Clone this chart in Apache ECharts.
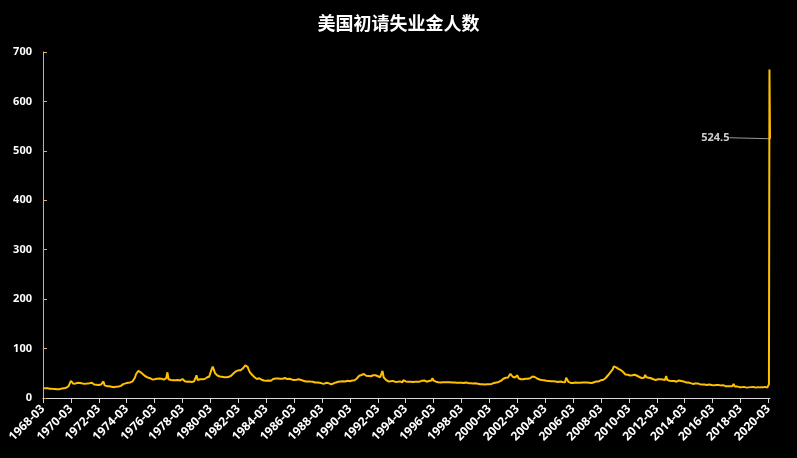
<!DOCTYPE html>
<html>
<head>
<meta charset="utf-8">
<script src="https://cdn.jsdelivr.net/npm/echarts@6/dist/echarts.min.js"></script>
<style>
html,body{margin:0;padding:0;background:#000;}
#chart{width:797px;height:458px;}
</style>
</head>
<body>
<div id="chart"></div>
<script>
// Weekly US initial jobless claims (万人), read as monthly levels
const titleText = '美国初请失业金人数';
const claims1960sStart = '1968-03';
const claims1960s = [20.5,19.8,19.5,20.2,19.6,19.0,18.9,19.4,18.6,18.8,
  18.4,18.9,17.9,18.5,17.8,18.3,19.0,18.6,19.5,20.1,20.8,21.5];
const claims1970sStart = '1970-01';
const claims1970s = [
  24.0,27.5,34.8,31.5,29.0,32.8,29.5,30.4,30.8,31.4,30.2,29.0,
  29.5,30.2,29.0,28.8,29.4,28.5,30.0,32.5,31.0,28.0,27.2,27.8,
  27.0,27.8,26.5,26.9,27.5,26.8,33.5,25.5,24.8,24.0,24.5,23.6,
  23.0,22.8,22.0,21.6,22.5,23.0,22.4,23.2,24.0,24.5,25.8,28.0,
  30.0,29.5,29.8,31.0,30.5,31.5,32.5,33.5,36.0,41.0,48.0,52.0,
  55.0,54.0,52.0,49.5,48.0,46.5,44.0,42.5,41.5,41.0,40.0,38.5,
  37.5,37.0,37.8,38.5,39.0,38.0,39.5,38.2,38.8,38.0,37.2,36.5,
  40.0,52.0,38.0,37.0,36.5,37.2,36.0,36.8,36.0,35.5,36.5,36.0,
  35.5,36.0,38.5,34.5,34.0,33.5,33.0,32.8,33.2,33.5,32.5,33.0,
  33.8,34.5,46.0,36.5,37.5,38.0,38.5,38.0,37.5,38.5,40.0,41.5];
const claims1980sStart = '1980-01';
const claims1980s = [
  42.0,43.5,47.0,58.0,63.5,57.0,50.0,47.0,45.5,44.5,43.5,42.5,
  43.0,42.5,42.0,43.0,42.0,43.5,42.8,44.0,45.5,47.5,50.0,52.5,
  54.0,53.0,56.0,58.5,56.0,57.5,60.0,61.5,66.0,69.0,63.0,57.0,
  52.0,48.0,46.5,45.0,42.0,40.0,38.5,41.5,40.0,38.0,37.0,36.5,
  35.5,34.0,35.0,34.5,35.5,34.0,35.0,36.5,38.5,41.5,39.5,38.5,
  39.5,40.0,39.0,39.5,38.8,39.8,40.5,39.0,38.5,39.5,39.0,38.2,
  37.5,37.8,36.5,36.0,37.0,36.8,38.0,37.2,36.5,35.0,34.8,34.0,
  33.5,33.0,33.5,32.8,33.2,34.0,33.0,32.0,31.5,30.5,31.5,32.0,
  31.0,30.0,29.5,30.5,29.0,30.0,31.0,30.5,29.5,28.5,27.5,28.0,
  29.5,30.5,31.5,32.0,33.0,32.0,33.5,33.0,33.8,34.5,33.5,34.5];
const claims1990sStart = '1990-01';
const claims1990s = [
  35.0,34.5,34.0,35.0,35.5,36.5,36.0,38.0,39.5,42.0,45.0,46.0,
  46.5,50.0,48.5,47.5,45.0,43.5,44.5,43.0,44.0,45.0,46.0,45.5,
  46.0,45.5,44.0,43.0,42.0,41.5,55.0,42.0,40.0,36.5,34.5,33.5,
  33.0,34.0,33.5,34.5,33.0,32.5,33.5,32.8,32.0,33.5,32.0,31.5,
  36.0,35.0,33.5,32.5,33.0,33.5,33.0,32.5,32.5,32.0,32.8,32.5,
  33.0,33.5,33.0,34.5,35.0,34.0,35.5,33.5,33.0,33.5,34.5,35.0,
  35.5,40.0,35.0,33.5,33.0,32.5,32.0,32.5,31.5,31.5,32.0,33.0,
  32.0,31.5,32.0,31.5,31.8,32.5,31.5,31.0,31.5,30.5,31.0,31.5,
  31.0,30.5,31.0,31.5,30.5,30.0,31.5,30.5,30.0,29.5,29.8,29.0,
  29.5,29.0,29.8,29.5,29.0,28.5,28.0,28.5,28.0,27.5,27.2,27.5];
const claims2000sStart = '2000-01';
const claims2000s = [
  28.0,27.5,27.8,27.5,28.5,29.5,30.5,31.0,31.5,31.5,32.5,33.5,
  35.0,37.5,39.0,40.5,41.0,40.5,41.5,40.5,49.0,47.5,43.0,41.0,
  41.5,40.5,46.0,40.0,38.5,38.0,38.5,38.0,38.5,39.0,38.5,39.0,
  38.0,40.0,42.0,43.5,43.0,42.5,41.0,39.5,39.0,37.5,36.5,36.5,
  35.5,36.0,35.5,35.0,35.0,34.5,35.0,34.0,34.5,34.0,34.5,33.5,
  34.0,32.5,33.0,33.5,33.0,32.5,31.5,32.0,41.0,37.0,32.5,32.0,
  30.5,30.0,30.5,31.0,31.5,30.8,31.0,31.5,31.0,30.5,31.5,31.0,
  31.5,32.5,31.5,32.0,31.0,31.5,30.5,32.0,32.0,32.5,33.5,34.0,
  33.5,35.0,36.0,37.5,37.0,38.5,40.5,44.0,46.0,47.5,52.0,56.0,
  58.0,64.0,66.0,62.0,60.5,59.0,56.0,56.5,54.5,52.5,50.0,47.5];
const claims2010sStart = '2010-01';
const claims2010s = [
  47.0,47.0,45.5,45.5,45.0,46.0,45.5,47.0,45.5,45.0,43.5,42.5,
  41.5,40.5,39.5,41.0,46.5,42.0,40.5,41.0,41.0,40.0,39.5,38.0,
  37.5,36.5,36.5,38.0,37.5,38.0,37.0,37.5,37.0,36.5,44.5,36.5,
  36.0,35.0,35.5,34.5,35.0,34.5,34.0,33.0,31.5,35.5,33.0,34.5,
  33.5,33.5,32.5,31.5,31.0,31.5,30.0,30.0,29.5,28.5,29.5,29.5,
  29.5,29.5,28.5,28.0,27.5,27.5,27.0,27.5,27.0,26.5,27.0,27.5,
  28.0,26.5,26.5,25.5,26.5,26.5,26.0,26.5,25.5,25.5,25.5,26.0,
  24.5,24.0,24.5,24.0,23.5,24.0,25.0,24.0,28.5,23.5,24.0,23.5,
  22.5,22.0,22.5,22.0,22.0,22.5,21.5,21.0,20.5,21.5,22.5,22.0,
  21.5,22.5,21.5,21.0,21.5,22.0,21.0,21.5,21.5,21.5,22.0,22.5,
  21.5,21.0];
const weekly2020Dates = ['2020-03-07','2020-03-14','2020-03-21','2020-03-28','2020-04-04','2020-04-11'];
const weekly2020Claims = [21.1, 28.2, 328.3, 664.8, 661.5, 524.5];
const yTicks = [0,100,200,300,400,500,600,700];

// month index since 1968-03
const BASE_Y = 1968, BASE_M = 3;
function monthIndex(dateStr) {
  const p = dateStr.split('-').map(Number);
  let idx = (p[0] - BASE_Y) * 12 + (p[1] - BASE_M);
  if (p.length > 2) {
    const dim = new Date(p[0], p[1], 0).getDate();
    idx += (p[2] - 1) / dim;
  }
  return idx;
}
const blocks = [
  [claims1960sStart, claims1960s],
  [claims1970sStart, claims1970s],
  [claims1980sStart, claims1980s],
  [claims1990sStart, claims1990s],
  [claims2000sStart, claims2000s],
  [claims2010sStart, claims2010s]
];
const points = [];
blocks.forEach(([start, vals]) => {
  const s = monthIndex(start);
  vals.forEach((v, i) => points.push([s + i, v]));
});
weekly2020Dates.forEach((d, i) => points.push([monthIndex(d), weekly2020Claims[i]]));
const lastPoint = points[points.length - 1];

function fmtMonth(v) {
  if (Math.abs(v % 24) > 1e-6) return '';
  const t = v + (BASE_M - 1);
  const y = BASE_Y + Math.floor(t / 12);
  const m = t % 12 + 1;
  return y + '-' + (m < 10 ? '0' + m : m);
}

const chart = echarts.init(document.getElementById('chart'));
chart.setOption({
  backgroundColor: '#000',
  animation: false,
  title: {
    text: titleText, left: 'center', top: 9,
    textStyle: { color: '#fff', fontSize: 18, fontWeight: 'bold', fontFamily: 'Noto Sans CJK SC' }
  },
  grid: { left: 43, right: 27, top: 52, bottom: 60, containLabel: false },
  xAxis: {
    type: 'value',
    min: 0,
    max: lastPoint[0],
    interval: 24,
    splitLine: { show: false },
    axisLine: { show: true, lineStyle: { color: '#d9d9d9', width: 1 } },
    axisTick: { show: true, length: 5, lineStyle: { color: '#d9d9d9' } },
    axisLabel: {
      color: '#fff', fontSize: 12, fontWeight: 'bold', rotate: 45, margin: 9,
      fontFamily: 'Noto Sans', showMaxLabel: false, formatter: fmtMonth
    }
  },
  yAxis: {
    type: 'value',
    min: yTicks[0], max: yTicks[yTicks.length - 1], interval: 100,
    splitLine: { show: false },
    axisLine: { show: true, lineStyle: { color: '#d4b06a', width: 1 } },
    axisTick: { show: true, inside: true, length: 4, lineStyle: { color: '#d4b06a' } },
    axisLabel: { color: '#fff', fontSize: 11, fontWeight: 'bold', margin: 11, fontFamily: 'Noto Sans' }
  },
  series: [
    {
      type: 'line',
      data: points,
      showSymbol: false,
      lineStyle: { color: '#FFC000', width: 2 },
      itemStyle: { color: '#FFC000' }
    },
    {
      type: 'scatter',
      data: [lastPoint],
      symbolSize: 1,
      itemStyle: { color: '#FFC000' },
      label: {
        show: true, position: 'left', distance: 4,
        color: '#fff', fontSize: 11, fontWeight: 'bold', fontFamily: 'Noto Sans',
        formatter: p => p.value[1]
      },
      labelLayout: { dx: -36, dy: -1 },
      labelLine: { show: true, lineStyle: { color: '#9a9a9a', width: 1 } }
    }
  ]
});
</script>
</body>
</html>
